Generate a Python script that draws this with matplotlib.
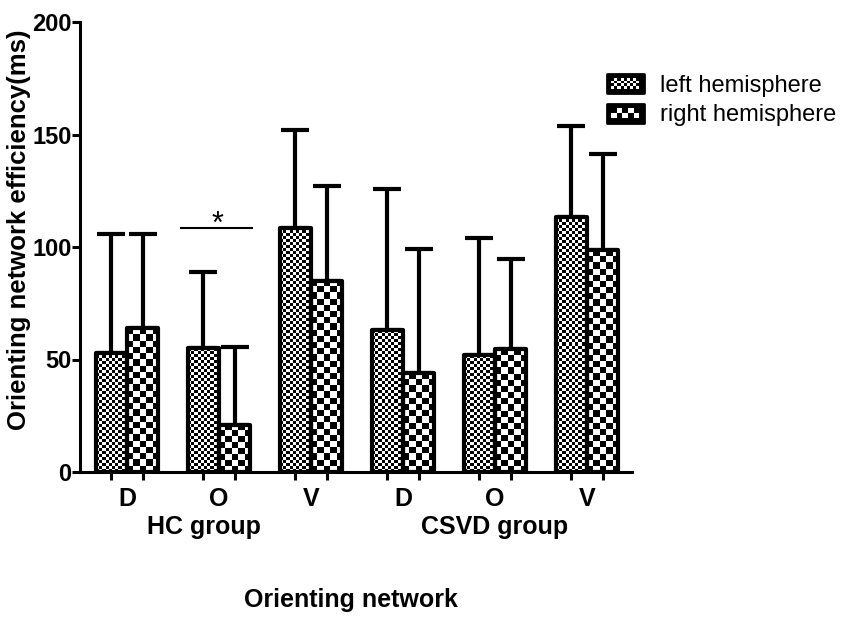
import numpy as np
import matplotlib
matplotlib.use("Agg")
import matplotlib.pyplot as plt
from matplotlib.patches import Rectangle, Patch
from matplotlib.legend_handler import HandlerBase

plt.rcParams['font.family'] = ['Liberation Sans', 'DejaVu Sans']

# ---- data ----
networks = ["D", "O", "V", "D", "O", "V"]
groups = ["HC group", "CSVD group"]
series = ["left hemisphere", "right hemisphere"]
left_mean = [53, 55, 108.5, 63, 52, 113.5]
left_err = [53, 34, 43.5, 63, 52, 40.5]
right_mean = [64, 21, 85, 44, 54.5, 98.5]
right_err = [42, 34.5, 42, 55, 40, 43]
sig_y = 108.5
yticks = [0, 50, 100, 150, 200]

W, H = 850, 617
fig = plt.figure(figsize=(W / 100, H / 100), dpi=100)
ax = fig.add_axes([80 / W, 1 - 472 / H, (632 - 80) / W, (472 - 22) / H])

x = np.arange(len(networks))
bw = 0.34
LW = 3.0
FS = 18

def checker_fill(ax, bars, sq_px):
    for b in bars:
        x0, w, h = b.get_x(), b.get_width(), b.get_height()
        p0 = ax.transData.transform((x0, 0))
        p1 = ax.transData.transform((x0 + w, h))
        nx = max(1, int(round(abs(p1[0] - p0[0]) / sq_px)))
        ny = max(1, int(round(abs(p1[1] - p0[1]) / sq_px)))
        ii, jj = np.indices((ny, nx))
        img = ((ii + jj) % 2).astype(float)
        im = ax.imshow(img, cmap='gray', vmin=0, vmax=1, extent=(x0, x0 + w, 0, h),
                       origin='lower', interpolation='nearest', aspect='auto', zorder=2)
        im.set_clip_path(b)

ax.set_xlim(-0.51, 5.49)
ax.set_ylim(0, 200)

bl = ax.bar(x - bw / 2, left_mean, bw, facecolor='none', edgecolor='black',
            linewidth=LW, joinstyle='round', zorder=3)
br = ax.bar(x + bw / 2, right_mean, bw, facecolor='none', edgecolor='black',
            linewidth=LW, joinstyle='round', zorder=3)
checker_fill(ax, bl, 3.0)
checker_fill(ax, br, 6.2)

ax.errorbar(x - bw / 2, left_mean, yerr=[np.zeros(6), left_err], fmt='none',
            ecolor='black', elinewidth=LW, capsize=10, capthick=LW, zorder=1)
ax.errorbar(x + bw / 2, right_mean, yerr=[np.zeros(6), right_err], fmt='none',
            ecolor='black', elinewidth=LW, capsize=10, capthick=LW, zorder=1)

# significance
ax.plot([1 - 0.41, 1 + 0.36], [sig_y, sig_y], color='black', lw=1.5, zorder=4)
ax.text(0.98, 106.4, "*", ha='center', va='baseline', fontsize=22, zorder=4)

# axes styling
for s in ['top', 'right']:
    ax.spines[s].set_visible(False)
for s in ['left', 'bottom']:
    ax.spines[s].set_linewidth(2.2)
ax.set_yticks(yticks)
ax.set_yticklabels([str(t) for t in yticks], fontsize=17, fontweight='bold')
ax.tick_params(axis='y', length=5.5, width=2.2, pad=0.5)
xt = np.sort(np.concatenate([x - bw / 2, x + bw / 2]))
ax.set_xticks(xt)
ax.set_xticklabels([])
ax.tick_params(axis='x', length=6, width=2.2)
ax.set_ylabel("Orienting network efficiency(ms)", fontsize=FS + 0.5, fontweight='bold')
ax.yaxis.set_label_coords(-0.0895, 0.539)

tr = ax.get_xaxis_transform()
for xi, n in zip(x, networks):
    ax.text(xi, -0.06, n, transform=tr, ha='center', va='center', fontsize=FS, fontweight='bold')
ax.text(0.84, -0.123, groups[0], transform=tr, ha='center', va='center', fontsize=FS, fontweight='bold')
ax.text(4.0, -0.123, groups[1], transform=tr, ha='center', va='center', fontsize=FS, fontweight='bold')
ax.text(2.43, -0.285, "Orienting network", transform=tr, ha='center', va='center',
        fontsize=FS, fontweight='bold')


class CheckerHandler(HandlerBase):
    def __init__(self, nx, ny):
        super().__init__()
        self.nx, self.ny = nx, ny

    def create_artists(self, legend, orig_handle, xdescent, ydescent, width, height, fontsize, trans):
        arts = []
        bg = Rectangle((-xdescent, -ydescent), width, height, facecolor='black',
                       edgecolor='black', linewidth=2, joinstyle='round', transform=trans)
        arts.append(bg)
        m = 0.22 * height
        ix0, iy0 = -xdescent + m, -ydescent + m
        iw, ih = width - 2 * m, height - 2 * m
        sw, sh = iw / self.nx, ih / self.ny
        for i in range(self.nx):
            for j in range(self.ny):
                if (i + j) % 2 == 0:
                    arts.append(Rectangle((ix0 + i * sw, iy0 + j * sh), sw, sh,
                                          facecolor='white', edgecolor='none', transform=trans))
        return arts


h1 = Patch(label=series[0])
h2 = Patch(label=series[1])
leg = fig.legend(handles=[h1, h2], labels=series, loc='upper left',
                 bbox_to_anchor=(607 / W, 1 - 74 / H), frameon=False, fontsize=17,
                 handlelength=1.55, handleheight=0.85, handletextpad=0.7, labelspacing=0.3,
                 borderpad=0, borderaxespad=0,
                 handler_map={h1: CheckerHandler(9, 4), h2: CheckerHandler(5, 2)})

fig.savefig("out.png", dpi=100)
